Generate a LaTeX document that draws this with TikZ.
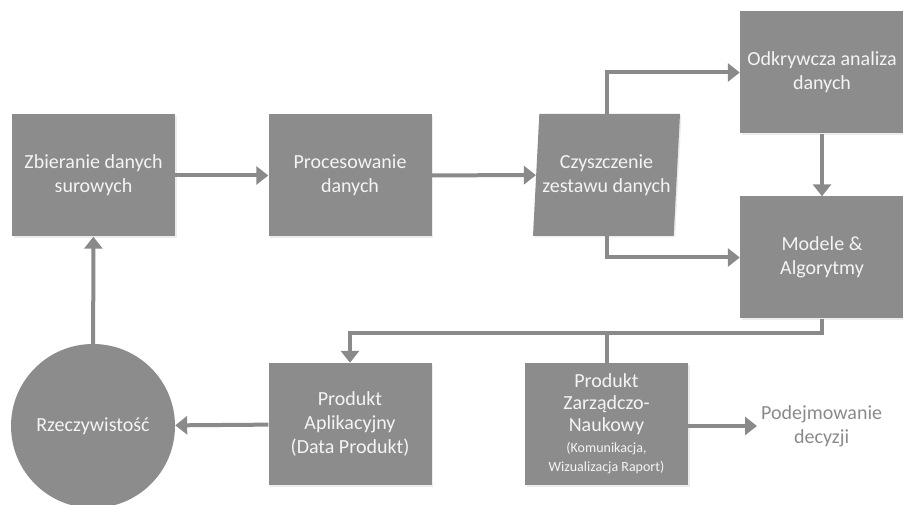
\documentclass[tikz,border=0pt]{standalone}
\usepackage{fontspec}
\setmainfont{Carlito}
\usetikzlibrary{arrows.meta,shapes.geometric,shadows}
\definecolor{boxgray}{HTML}{8C8C8C}
\definecolor{linegray}{HTML}{8A8A8A}
\definecolor{txtwhite}{HTML}{F4F4F4}
\newcommand{\bigtxt}{\fontsize{20}{24}\selectfont}
\newcommand{\tighttxt}{\fontsize{20}{19}\selectfont\lineskiplimit=-20pt}
\newcommand{\smalltxt}{\fontsize{14}{19}\selectfont}

\begin{document}
\begin{tikzpicture}[x=1pt, y=-1pt,
    stage/.style={rectangle, fill=boxgray, text=txtwhite, minimum width=163pt, minimum height=122pt,
        inner sep=2pt, align=center, font=\bigtxt,
        drop shadow={opacity=0.15, shadow xshift=1.5pt, shadow yshift=-1.5pt}},
    flow/.style={-{Triangle[length=12pt,width=18pt]}, line width=4pt, linegray},
    link/.style={line width=4pt, linegray}]
    \useasboundingbox (0,0) rectangle (903,505);

    % Nodes
    \node[stage] (collect) at (93.5,175.5) {Zbieranie danych\\surowych};
    \node[stage] (process) at (350,175.5) {Procesowanie\\danych};
    \node[stage, shape=trapezium, trapezium left angle=82, trapezium right angle=98,
        trapezium stretches body, minimum width=147pt] (clean) at (606.5,175) {Czyszczenie\\zestawu danych};
    \node[stage, minimum width=164pt] (explore) at (822,72.5) {Odkrywcza analiza\\danych};
    \node[stage, minimum width=164pt] (models) at (822,257.5) {Modele \&\\Algorytmy};
    \node[stage] (appprod) at (350,424) {Produkt\\Aplikacyjny\\(Data Produkt)};
    \node[stage, font=\tighttxt] (mgmtprod) at (606.5,424) {Produkt\\[3pt]Zarządczo-\\[3pt]Naukowy\\[2pt]\smalltxt(Komunikacja,\\\smalltxt Wizualizacja Raport)};
    \node[circle, fill=boxgray, text=txtwhite, minimum size=164pt, inner sep=0pt, font=\bigtxt] (reality) at (93,426) {Rzeczywistość};
    \node[anchor=west, inner sep=4pt, align=center, text=linegray, font=\bigtxt] (decision) at (757,426) {Podejmowanie\\decyzji};
    \coordinate (bus) at (822,333);

    % Edges
    \draw[flow] (collect) -- (process);
    \draw[flow] (process) -- (clean);
    \draw[flow] (clean.north) |- (explore.west);
    \draw[flow] (clean.south) |- (models.west);
    \draw[flow] (explore) -- (models);
    \draw[flow] (models.south) -- (bus) -| (appprod.north);
    \draw[link] (mgmtprod.north) -- (mgmtprod.north |- bus);
    \draw[flow] (appprod) -- (reality);
    \draw[flow] (reality) -- (collect);
    \draw[flow] (mgmtprod.east |- decision.west) -- (decision.west);
\end{tikzpicture}
\end{document}
